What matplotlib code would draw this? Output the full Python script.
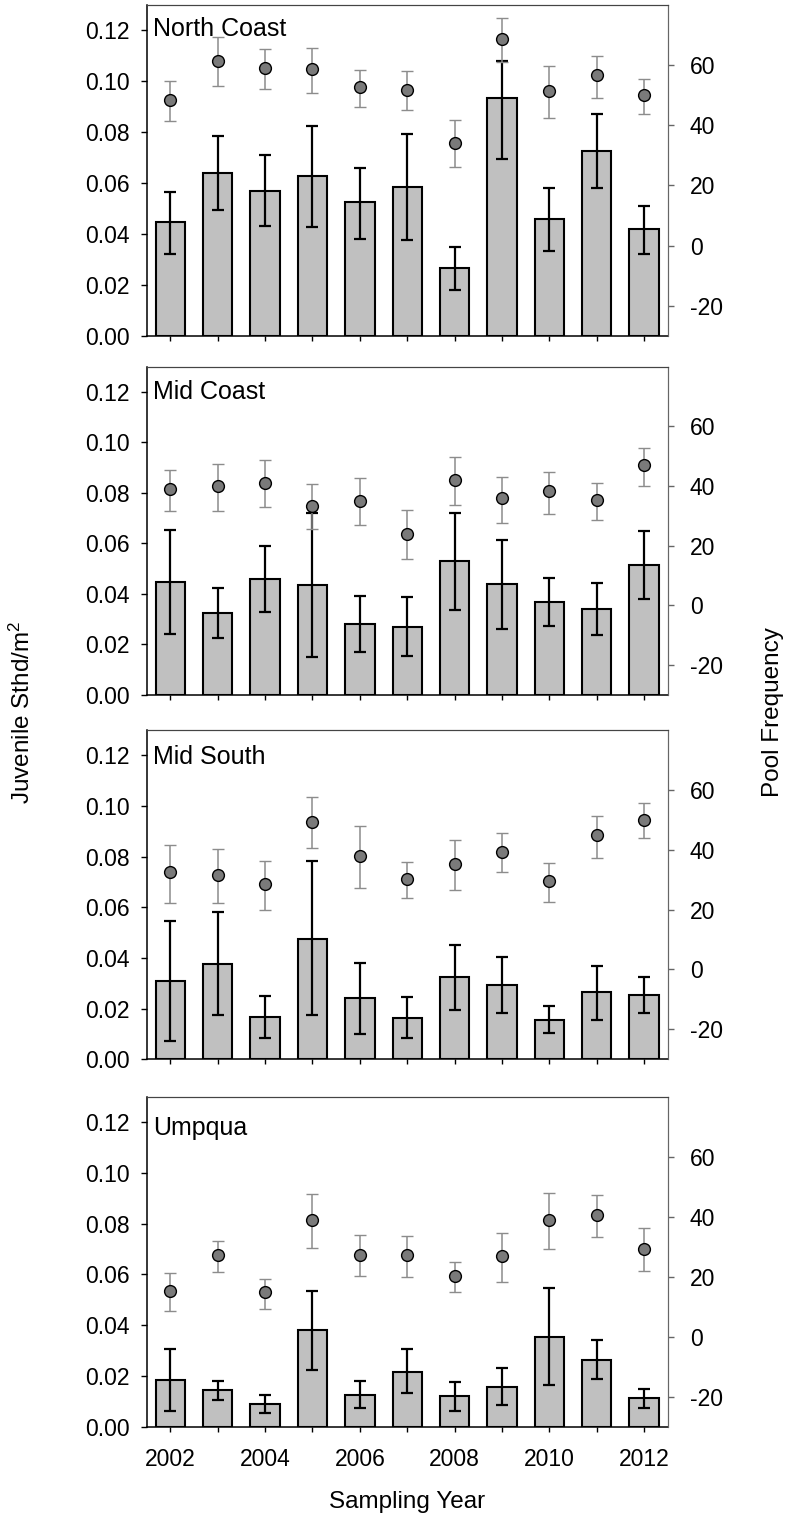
import numpy as np
import matplotlib
matplotlib.use("Agg")
import matplotlib.pyplot as plt

plt.rcParams['font.family'] = ['Liberation Sans', 'DejaVu Sans']
plt.rcParams['mathtext.default'] = 'regular'
plt.rcParams['axes.unicode_minus'] = False

years = list(range(2002, 2013))
regions = ['North Coast', 'Mid Coast', 'Mid South', 'Umpqua']

# juvenile steelhead per m2 (bars), lower and upper error ends
nc_sthd    = [0.0445, 0.0640, 0.0570, 0.0629, 0.0525, 0.0584, 0.0267, 0.0936, 0.0459, 0.0726, 0.0418]
nc_sthd_lo = [0.0321, 0.0494, 0.0431, 0.0427, 0.0382, 0.0377, 0.0178, 0.0693, 0.0334, 0.0580, 0.0323]
nc_sthd_hi = [0.0566, 0.0785, 0.0709, 0.0826, 0.0660, 0.0792, 0.0350, 0.1080, 0.0580, 0.0870, 0.0509]

mc_sthd    = [0.0449, 0.0325, 0.0460, 0.0436, 0.0282, 0.0271, 0.0529, 0.0439, 0.0369, 0.0342, 0.0514]
mc_sthd_lo = [0.0241, 0.0226, 0.0330, 0.0149, 0.0171, 0.0153, 0.0337, 0.0260, 0.0275, 0.0239, 0.0382]
mc_sthd_hi = [0.0654, 0.0424, 0.0590, 0.0722, 0.0393, 0.0389, 0.0719, 0.0615, 0.0463, 0.0443, 0.0648]

ms_sthd    = [0.0310, 0.0377, 0.0166, 0.0476, 0.0241, 0.0164, 0.0323, 0.0294, 0.0157, 0.0264, 0.0253]
ms_sthd_lo = [0.0074, 0.0175, 0.0084, 0.0173, 0.0099, 0.0083, 0.0193, 0.0182, 0.0102, 0.0156, 0.0181]
ms_sthd_hi = [0.0547, 0.0580, 0.0248, 0.0781, 0.0382, 0.0244, 0.0451, 0.0405, 0.0212, 0.0369, 0.0326]

um_sthd    = [0.0184, 0.0145, 0.0089, 0.0379, 0.0126, 0.0217, 0.0121, 0.0158, 0.0355, 0.0263, 0.0112]
um_sthd_lo = [0.0063, 0.0107, 0.0053, 0.0224, 0.0072, 0.0132, 0.0062, 0.0086, 0.0166, 0.0186, 0.0075]
um_sthd_hi = [0.0305, 0.0180, 0.0126, 0.0533, 0.0179, 0.0305, 0.0178, 0.0230, 0.0545, 0.0341, 0.0149]

# pool frequency (circles), lower and upper error ends
nc_pool    = [48.4, 61.3, 59.1, 58.7, 52.6, 51.8, 34.1, 68.7, 51.3, 56.6, 49.9]
nc_pool_lo = [41.4, 52.9, 52.1, 50.8, 46.1, 45.1, 26.1, 61.0, 42.4, 49.0, 43.6]
nc_pool_hi = [54.7, 69.4, 65.4, 65.8, 58.3, 57.9, 41.6, 75.6, 59.6, 63.2, 55.4]

mc_pool    = [38.9, 40.0, 40.9, 33.3, 35.0, 24.1, 42.1, 35.9, 38.2, 35.3, 46.9]
mc_pool_lo = [31.7, 31.7, 33.0, 25.6, 26.9, 15.6, 33.7, 27.7, 30.8, 28.7, 39.9]
mc_pool_hi = [45.3, 47.4, 48.7, 40.6, 42.6, 31.9, 49.8, 43.2, 44.8, 41.1, 52.9]

ms_pool    = [32.5, 31.7, 28.7, 49.4, 37.8, 30.1, 35.3, 39.4, 29.4, 44.8, 49.9]
ms_pool_lo = [22.3, 22.3, 20.0, 40.5, 27.1, 24.0, 26.4, 32.4, 22.5, 37.4, 43.9]
ms_pool_hi = [41.7, 40.3, 36.4, 57.6, 47.9, 35.8, 43.4, 45.6, 35.6, 51.3, 55.5]

um_pool    = [15.4, 27.2, 14.8, 38.9, 27.3, 27.1, 20.2, 26.9, 38.9, 40.5, 29.3]
um_pool_lo = [8.6, 21.7, 9.4, 29.6, 20.2, 19.8, 15.0, 18.3, 29.2, 33.2, 21.8]
um_pool_hi = [21.3, 32.0, 19.4, 47.7, 34.0, 33.6, 24.9, 34.6, 48.0, 47.1, 36.2]

sthd_sets = [(nc_sthd, nc_sthd_lo, nc_sthd_hi), (mc_sthd, mc_sthd_lo, mc_sthd_hi),
             (ms_sthd, ms_sthd_lo, ms_sthd_hi), (um_sthd, um_sthd_lo, um_sthd_hi)]
pool_sets = [(nc_pool, nc_pool_lo, nc_pool_hi), (mc_pool, mc_pool_lo, mc_pool_hi),
             (ms_pool, ms_pool_lo, ms_pool_hi), (um_pool, um_pool_lo, um_pool_hi)]

left_ticks = [0.00, 0.02, 0.04, 0.06, 0.08, 0.10, 0.12]
right_ticks = [-20, 0, 20, 40, 60]

# layout, in pixels from the top of the 788x1524 figure
W, H = 788, 1524
panel_px = [(5, 335.7), (366.7, 695), (730, 1059.3), (1096.7, 1426.7)]
label_y = [0.965, 0.96, 0.955, 0.94]
x0, x1 = 146.7, 667.7

fig = plt.figure(figsize=(W / 100, H / 100), dpi=100)

for i, name in enumerate(regions):
    top, bot = panel_px[i]
    ax = fig.add_axes([x0 / W, 1 - bot / H, (x1 - x0) / W, (bot - top) / H])

    mean, lo, hi = [np.array(a) for a in sthd_sets[i]]
    ax.bar(years, mean, width=0.62, color='#c0c0c0', edgecolor='black',
           linewidth=1.5, zorder=2)
    ax.errorbar(years, mean, yerr=[mean - lo, hi - mean], fmt='none',
                ecolor='black', elinewidth=1.6, capsize=4, capthick=1.6, zorder=3)

    ax.set_xlim(2001.5, 2012.5)
    ax.set_ylim(0, 0.13)
    ax.set_yticks(left_ticks)
    ax.set_yticklabels(['%.2f' % t for t in left_ticks])
    ax.set_xticks(years)
    if i == 3:
        ax.set_xticklabels([str(y) if y % 2 == 0 else '' for y in years])
    else:
        ax.set_xticklabels([])
    ax.tick_params(axis='y', direction='out', length=4, width=1, pad=8, labelsize=16.5)
    ax.tick_params(axis='x', direction='out', length=3.6, width=1, pad=12, labelsize=16.5)

    for s in ['left', 'bottom']:
        ax.spines[s].set_color('black')
        ax.spines[s].set_linewidth(1.1)
    ax.spines['top'].set_color('#444444')
    ax.spines['right'].set_color('#666666')

    ax.text(0.013, label_y[i], name, transform=ax.transAxes, ha='left', va='top',
            fontsize=18)

    ax2 = ax.twinx()
    pm, plo, phi = [np.array(a) for a in pool_sets[i]]
    ax2.errorbar(years, pm, yerr=[pm - plo, phi - pm], fmt='o', ms=8.5,
                 mfc='#7a7a7a', mec='black', mew=1.0, ecolor='#8c8c8c',
                 elinewidth=1.1, capsize=4, capthick=1.1, zorder=4)
    ax2.set_ylim(-30, 80)
    ax2.set_yticks(right_ticks)
    ax2.tick_params(axis='y', direction='out', length=4, width=1, pad=12,
                    labelsize=16.5, color='#666666')
    ax2.spines['right'].set_color('#666666')
    ax2.spines['top'].set_color('#444444')
    ax2.spines['left'].set_visible(False)
    ax2.spines['bottom'].set_visible(False)

fig.text(22 / W, 1 - 712 / H, 'Juvenile Sthd/m$^2$', rotation=90,
         ha='center', va='center', fontsize=17.5)
fig.text(773 / W, 1 - 712 / H, 'Pool Frequency', rotation=90,
         ha='center', va='center', fontsize=17.5)
fig.text((x0 + x1) / 2 / W, 1 - 1502 / H, 'Sampling Year',
         ha='center', va='center', fontsize=17.5)

fig.savefig('out.png', dpi=100)
